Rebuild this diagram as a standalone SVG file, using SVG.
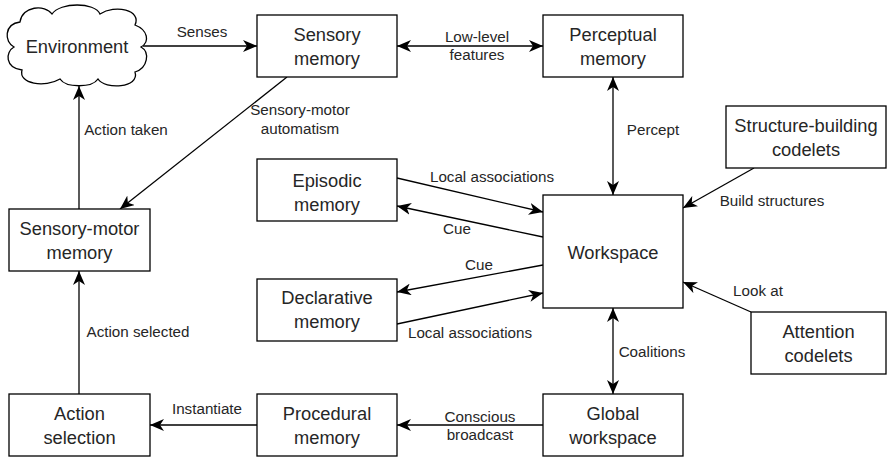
<svg xmlns="http://www.w3.org/2000/svg" width="887" height="458" viewBox="0 0 887 458">
<style>
.box{fill:#fff;stroke:#000;stroke-width:1.3}
.nt{font-family:"Liberation Sans",Arial,sans-serif;font-size:18.3px;fill:#262626;text-anchor:middle}
.et{font-family:"Liberation Sans",Arial,sans-serif;font-size:15.2px;fill:#262626;text-anchor:middle}
.ln{fill:none;stroke:#000;stroke-width:1.3}
.one{marker-end:url(#ah)}
.two{marker-start:url(#ah);marker-end:url(#ah)}
</style>
<defs>
<marker id="ah" viewBox="0 0 14 12" refX="14" refY="6" markerWidth="14" markerHeight="12" markerUnits="userSpaceOnUse" orient="auto-start-reverse">
<path d="M0,0 L14,6 L0,12 L4,6 Z" fill="#000"/>
</marker>
</defs>
<rect width="887" height="458" fill="#fff"/>
<g id="connectors">
<path class="ln one" d="M143,46 H257"/>
<path class="ln two" d="M397,46 H543"/>
<path class="ln two" d="M613,77 V195"/>
<path class="ln one" d="M287,77 L120,209"/>
<path class="ln one" d="M79,209 V86"/>
<path class="ln one" d="M79,394 V271"/>
<path class="ln one" d="M257,425 H150"/>
<path class="ln one" d="M543,425 H397"/>
<path class="ln two" d="M613,308 V394"/>
<path class="ln one" d="M754,168 L683,208"/>
<path class="ln one" d="M751,312 L683,282"/>
<path class="ln one" d="M397,178 L543,212"/>
<path class="ln one" d="M543,237 L397,206"/>
<path class="ln one" d="M543,265 L397,292"/>
<path class="ln one" d="M397,324 L543,293"/>
<text class="et" x="202" y="37">Senses</text>
<text class="et" x="477" y="42">Low-level</text>
<text class="et" x="477" y="60">features</text>
<text class="et" x="300" y="115">Sensory-motor</text>
<text class="et" x="300" y="134">automatism</text>
<text class="et" x="653" y="135">Percept</text>
<text class="et" x="126" y="135">Action taken</text>
<text class="et" x="138" y="337">Action selected</text>
<text class="et" x="492" y="182">Local associations</text>
<text class="et" x="457" y="234">Cue</text>
<text class="et" x="479" y="270">Cue</text>
<text class="et" x="470" y="338">Local associations</text>
<text class="et" x="772" y="206">Build structures</text>
<text class="et" x="758" y="296">Look at</text>
<text class="et" x="652" y="357">Coalitions</text>
<text class="et" x="480" y="422">Conscious</text>
<text class="et" x="480" y="440">broadcast</text>
<text class="et" x="207" y="414">Instantiate</text>
</g>
<g id="environment">
<path class="box" d="M14,47 C4,42 4,24 20,22 C22,6 45,4 52,14 C60,2 95,2 100,14 C115,4 142,10 135,25 C148,30 150,42 141,47 C150,52 148,68 135,72 C140,88 105,90 98,79 C92,88 66,88 60,79 C45,88 18,84 22,70 C5,68 5,52 14,47 Z"/>
<text class="nt" x="77" y="53">Environment</text>
</g>
<g id="sensory-memory">
<rect class="box" x="257" y="15" width="140" height="62"/>
<text class="nt" x="327" y="41">Sensory</text>
<text class="nt" x="327" y="65">memory</text>
</g>
<g id="perceptual-memory">
<rect class="box" x="543" y="15" width="140" height="62"/>
<text class="nt" x="613" y="41">Perceptual</text>
<text class="nt" x="613" y="65">memory</text>
</g>
<g id="episodic-memory">
<rect class="box" x="257" y="159" width="140" height="62"/>
<text class="nt" x="327" y="187">Episodic</text>
<text class="nt" x="327" y="211">memory</text>
</g>
<g id="declarative-memory">
<rect class="box" x="257" y="279" width="140" height="62"/>
<text class="nt" x="327" y="304">Declarative</text>
<text class="nt" x="327" y="328">memory</text>
</g>
<g id="workspace">
<rect class="box" x="543" y="195" width="140" height="113"/>
<text class="nt" x="613" y="259">Workspace</text>
</g>
<g id="structure-building-codelets">
<rect class="box" x="726" y="106" width="160" height="62"/>
<text class="nt" x="806" y="132">Structure-building</text>
<text class="nt" x="806" y="156">codelets</text>
</g>
<g id="attention-codelets">
<rect class="box" x="751" y="312" width="135" height="62"/>
<text class="nt" x="818.5" y="338">Attention</text>
<text class="nt" x="818.5" y="362">codelets</text>
</g>
<g id="global-workspace">
<rect class="box" x="543" y="394" width="140" height="62"/>
<text class="nt" x="613" y="420">Global</text>
<text class="nt" x="613" y="444">workspace</text>
</g>
<g id="procedural-memory">
<rect class="box" x="257" y="394" width="140" height="62"/>
<text class="nt" x="327" y="420">Procedural</text>
<text class="nt" x="327" y="444">memory</text>
</g>
<g id="action-selection">
<rect class="box" x="9" y="394" width="141" height="62"/>
<text class="nt" x="79.5" y="420">Action</text>
<text class="nt" x="79.5" y="444">selection</text>
</g>
<g id="sensory-motor-memory">
<rect class="box" x="9" y="209" width="141" height="62"/>
<text class="nt" x="79.5" y="235">Sensory-motor</text>
<text class="nt" x="79.5" y="259">memory</text>
</g>
</svg>
